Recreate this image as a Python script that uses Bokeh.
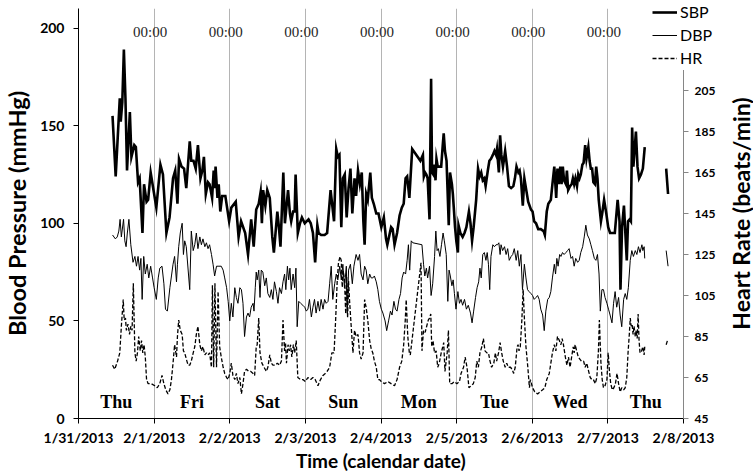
import math
from bokeh.plotting import figure
from bokeh.models import (Range1d, LinearAxis, FixedTicker, Legend, LegendItem,
                          ColumnDataSource)
from bokeh.core.properties import value
from bokeh.embed import file_html
from bokeh.resources import INLINE

GAP = float("nan")

# ---- data: hours since 1/31/2013 00:00 ----
sbp_hours = [
    10.8, 11.8, 13.1, 13.4, 13.9, 14.4, 14.9, 15.4, 16.3, 16.8,
    17.7, 18.2, 18.9, 19.4, 20.3, 20.8, 21.6, 22.1, 22.9, 23.9,
    24.7, 26.0, 26.8, 27.9, 28.9, 30.0, 30.7, 31.4, 31.9, 32.7,
    33.5, 34.2, 35.3, 35.8, 36.5, 37.2, 37.9, 38.7, 39.3, 39.8,
    40.4, 41.1, 41.6, 42.4, 42.9, 43.3, 43.5, 44.1, 44.5, 45.0,
    45.6, 46.6, 47.8, 48.5, 49.9, 50.8, 51.6, 52.9, 53.8, 54.8,
    55.6, 56.4, 57.2, 57.8, 58.2, 58.6, 59.3, 59.9, 60.7, 61.5,
    62.0, 63.1, 63.6, 64.1, 65.0, 65.5, 66.5, 67.1, 67.5, 68.1,
    68.6, 68.9, 69.6, 70.3, 70.9, 71.8, 73.0, 73.7, 74.4, 75.1,
    75.8, 76.2, 77.0, 78.1, 78.9, 80.0, 81.1, 81.8, 82.3, 82.8,
    83.4, 83.9, 84.5, 85.1, 85.7, 86.3, 86.9, 87.6, 88.1, 88.7,
    89.3, 89.9, 90.4, 90.8, 91.3, 91.8, 92.6, 93.1, 93.7, 94.5,
    95.2, 96.1, 96.9, 97.6, 98.0, 99.2, 99.7, 100.3, 101.1, 101.9,
    102.6, 103.2, 103.8, 104.3, 105.0, 105.9, 108.5, 109.3, 109.6, 110.0,
    110.4, 110.8, 111.4, 111.9, 112.2, 112.6, 113.0, 113.3, 113.6, 114.0,
    114.5, 115.1, 115.6, 115.9, 116.3, 116.8, 117.1, 117.5, 117.9, 118.5,
    118.8, 119.1, 119.5, 119.9, 120.4, 120.6, 121.2, 121.9, 122.5, 123.1,
    123.9, 124.4, 124.9, 125.4, 126.2, 126.8, 127.3, 127.8, 128.3, 128.8,
    129.2, 129.9, 130.4, 130.9, 131.5, 132.0, 132.5, 132.8, 133.4, 133.8,
    134.2, 134.7, 135.4, 136.0, 136.6, 137.3, 138.0, 138.5, 139.0, 139.6,
    140.0, 140.4, 141.0, 141.5, 142.0, 142.7, 143.6, 144.1, 144.6, 145.2,
    145.9, 146.7, 147.6, 148.0, 148.6, 149.1, 149.9, 150.4, 151.0, 151.6,
    152.0, 152.4, 152.9, 153.3, 153.7, 154.1, 154.7, 155.0, 155.4, 156.0,
    156.5, 156.9, 157.3, 157.7, 158.2, 158.6, 159.0, 159.4, 159.9, 160.3,
    160.8, 161.2, 161.8, 162.2, 162.6, 163.0, 163.4, 163.9, 164.3, 164.7,
    165.1, 165.8, 166.2, 166.8, 167.5, 168.1, 168.7, 169.5, 170.2, 171.1,
    171.7, 172.0, 172.5, 173.1, 174.0, 174.4, 174.9, 175.3, 175.7, 176.1,
    176.9, 177.4, 177.9, 178.5, 179.1, 179.7, GAP, 186.5, 187.1,
]
sbp_values = [
    155, 124, 164, 152, 162, 189, 164, 127, 157, 134,
    140, 139, 121, 123, 95, 120, 111, 112, 126, 116,
    108, 130, 125, 95, 103, 123, 127, 110, 133, 129,
    128, 118, 142, 132, 132, 128, 140, 123, 127, 134,
    115, 121, 120, 113, 127, 118, 129, 113, 120, 106,
    114, 114, 101, 108, 111, 93, 101, 95, 84, 102,
    88, 107, 110, 116, 100, 117, 109, 117, 113, 93,
    85, 106, 98, 88, 126, 100, 117, 105, 101, 106,
    106, 125, 95, 100, 103, 100, 102, 100, 95, 80,
    99, 95, 94, 94, 95, 117, 101, 138, 134, 135,
    98, 123, 125, 103, 118, 128, 105, 123, 114, 127,
    120, 126, 101, 89, 115, 112, 126, 113, 110, 105,
    105, 98, 103, 92, 89, 98, 97, 89, 95, 104,
    108, 110, 123, 124, 113, 138, 132, 135, 124, 126,
    125, 123, 102, 174, 126, 125, 130, 122, 133, 129,
    129, 129, 140, 146, 137, 132, 118, 99, 126, 120,
    115, 108, 98, 91, 85, 99, 95, 93, 95, 98,
    106, 100, 91, 98, 112, 128, 124, 126, 122, 123,
    119, 127, 132, 133, 135, 137, 135, 138, 126, 145,
    135, 129, 137, 129, 119, 118, 119, 123, 129, 126,
    127, 123, 109, 123, 118, 111, 107, 106, 101, 100,
    97, 97, 96, 94, 106, 110, 112, 120, 129, 113,
    128, 120, 129, 120, 129, 122, 120, 127, 117, 119,
    120, 123, 120, 123, 119, 125, 123, 125, 130, 131,
    140, 133, 139, 132, 128, 128, 121, 120, 129, 123,
    112, 101, 105, 112, 105, 98, 95, 95, 95, 112,
    101, 66, 98, 109, 81, 101, 102, 101, 149, 129,
    147, 129, 123, 125, 128, 139, GAP, 128, 115,
]

dbp_hours = [
    10.8, 11.7, 12.3, 12.8, 13.2, 13.6, 14.3, 14.7, 15.1, 15.5,
    16.0, 16.6, 17.3, 17.9, 18.4, 18.9, 19.4, 19.8, 20.2, 20.7,
    21.2, 21.8, 22.3, 22.9, 23.5, 24.0, 24.7, 25.3, 25.8, 26.5,
    27.1, 27.6, 28.2, 29.0, 29.5, 30.0, 30.5, 31.1, 31.4, 31.8,
    32.3, 32.9, 33.3, 33.7, 34.2, 35.3, 35.8, 36.4, 36.9, 37.4,
    37.9, 38.5, 39.0, 39.5, 40.1, 40.6, 41.1, 41.6, 42.2, 42.7,
    43.2, 43.8, 44.3, 45.3, 45.9, 46.4, 47.0, 47.5, 48.0, 48.5,
    49.0, 49.6, 50.1, 50.6, 51.2, 51.7, 52.2, 52.7, 53.3, 53.8,
    54.3, 54.8, 55.4, 55.7, 56.1, 56.4, 56.7, 57.2, 57.6, 58.0,
    58.5, 59.1, 59.6, 60.1, 60.7, 61.2, 61.7, 62.2, 62.8, 63.3,
    63.8, 64.4, 64.9, 65.4, 65.8, 66.3, 66.7, 67.1, 67.5, 68.1,
    68.6, 69.0, 69.4, 69.9, 70.5, 71.2, 71.8, 72.3, 72.8, 73.3,
    73.9, 74.4, 74.9, 75.4, 76.0, 76.5, 77.0, 77.6, 78.1, 78.6,
    79.2, 79.7, 80.2, 80.7, 81.3, 81.8, 82.3, 82.9, 83.4, 83.9,
    84.4, 85.0, 85.3, 85.7, 86.3, 86.9, 87.4, 88.1, 88.7, 89.2,
    89.7, 90.3, 90.8, 91.3, 91.8, 92.4, 92.9, 93.4, 93.9, 94.5,
    95.0, 95.5, 96.1, 96.6, 97.3, 97.8, 98.4, 99.0, 99.5, 100.1,
    100.6, 101.1, 101.7, 102.2, 102.7, 103.2, 103.8, 104.3, 104.7, 105.1,
    105.6, 106.1, 109.0, 109.5, 109.9, 110.4, 110.8, 111.4, 111.9, 112.4,
    113.0, 113.4, 113.8, 114.2, 114.7, 115.2, 115.7, 116.1, 116.7, 117.2,
    117.6, 118.0, 118.5, 118.9, 119.3, 119.8, 120.4, 120.9, 121.4, 121.9,
    122.5, 123.1, 123.7, 124.4, 124.9, 125.4, 126.0, 126.5, 127.0, 127.4,
    127.8, 128.3, 128.8, 129.3, 129.7, 130.1, 130.5, 130.9, 131.5, 132.0,
    132.5, 133.0, 133.4, 133.8, 134.1, 134.6, 135.2, 135.7, 136.2, 136.7,
    137.3, 137.8, 138.3, 138.9, 139.4, 139.9, 140.4, 140.9, 141.5, 142.0,
    142.5, 143.0, 143.6, 144.1, 144.6, 145.2, 145.7, 146.2, 146.7, 147.3,
    147.8, 148.3, 148.9, 149.4, 149.9, 150.4, 151.0, 151.4, 151.8, 152.2,
    152.7, 153.1, 153.6, 154.1, 154.7, 155.2, 155.7, 156.3, 156.8, 157.3,
    157.8, 158.4, 158.9, 159.4, 160.0, 160.5, 161.0, 161.5, 162.1, 162.6,
    163.1, 163.7, 164.2, 164.7, 165.2, 165.6, 166.1, 166.6, 167.1, 167.7,
    168.2, 168.7, 169.3, 169.8, 170.3, 170.8, 171.4, 171.9, 172.4, 173.0,
    173.5, 174.0, 174.5, 175.1, 175.6, 176.1, 176.7, 177.2, 177.7, 178.2,
    178.8, 179.1, 179.5, 179.7, GAP, 186.5, 187.1,
]
dbp_values = [
    94, 92, 93, 96, 102, 93, 102, 91, 88, 95,
    102, 89, 80, 83, 78, 83, 76, 82, 61, 83,
    74, 79, 72, 78, 72, 67, 61, 72, 77, 78,
    69, 56, 55, 67, 73, 79, 83, 70, 79, 88,
    95, 100, 84, 91, 88, 66, 96, 86, 89, 95,
    87, 93, 89, 92, 88, 90, 87, 89, 84, 79,
    73, 78, 78, 78, 76, 72, 67, 60, 50, 59,
    52, 67, 62, 59, 67, 66, 59, 42, 52, 54,
    52, 57, 59, 55, 67, 75, 71, 76, 62, 76,
    75, 68, 72, 64, 62, 66, 61, 70, 65, 59,
    67, 64, 70, 74, 66, 78, 71, 77, 66, 74,
    67, 77, 47, 60, 59, 58, 57, 55, 56, 61,
    52, 57, 61, 54, 60, 55, 61, 56, 61, 59,
    60, 69, 78, 61, 69, 74, 71, 78, 71, 79,
    67, 78, 54, 76, 79, 69, 78, 84, 81, 84,
    74, 71, 78, 76, 69, 74, 72, 72, 73, 70,
    66, 60, 56, 54, 50, 45, 50, 55, 53, 60,
    56, 55, 61, 64, 72, 75, 74, 81, 89, 76,
    91, 90, 89, 79, 73, 77, 72, 78, 63, 69,
    83, 96, 86, 87, 83, 89, 95, 91, 84, 60,
    76, 73, 68, 71, 64, 56, 65, 59, 61, 58,
    61, 56, 58, 54, 49, 55, 62, 67, 70, 77,
    72, 84, 85, 81, 85, 79, 66, 83, 89, 88,
    89, 89, 90, 84, 89, 86, 88, 84, 87, 81,
    83, 84, 87, 81, 86, 78, 84, 66, 79, 72,
    66, 65, 64, 63, 61, 62, 63, 61, 56, 53,
    45, 55, 61, 62, 65, 72, 79, 74, 82, 78,
    84, 83, 85, 84, 85, 86, 87, 82, 83, 78,
    82, 80, 81, 85, 88, 93, 99, 94, 92, 89,
    86, 82, 81, 84, 74, 55, 66, 66, 62, 59,
    56, 53, 49, 59, 65, 57, 62, 53, 47, 61,
    64, 61, 67, 81, 86, 83, 86, 84, 88, 85,
    89, 86, 88, 82, GAP, 86, 78,
]

hr_hours = [
    10.8, 11.5, 12.4, 13.1, 13.6, 14.2, 14.5, 14.9, 15.2, 15.7,
    16.2, 16.6, 17.0, 17.4, 17.9, 18.3, 18.7, 19.1, 19.6, 20.0,
    20.4, 20.8, 21.2, 21.6, 22.1, 23.1, 24.2, 25.0, 25.8, 26.5,
    27.1, 27.7, 28.4, 29.0, 29.5, 30.0, 30.5, 31.1, 31.4, 31.8,
    32.3, 32.9, 33.3, 33.7, 34.4, 34.8, 35.3, 35.8, 36.4, 36.9,
    37.4, 37.9, 38.5, 39.0, 39.5, 40.1, 40.6, 41.1, 41.6, 42.2,
    42.5, 42.9, 43.3, 43.8, 44.3, 44.8, 45.3, 45.9, 46.4, 47.0,
    47.5, 48.0, 48.5, 49.0, 49.6, 50.1, 50.6, 51.2, 51.7, 52.2,
    52.7, 53.3, 54.0, 54.6, 55.4, 55.9, 56.4, 56.7, 57.2, 57.6,
    58.2, 58.9, 59.6, 60.1, 60.7, 61.2, 61.7, 62.5, 63.1, 63.8,
    64.4, 64.9, 65.4, 65.7, 66.0, 66.5, 66.9, 67.3, 67.7, 68.2,
    68.6, 69.1, 69.6, 70.5, 71.2, 72.0, 72.8, 73.7, 74.4, 75.1,
    76.0, 76.8, 77.6, 78.3, 78.9, 79.7, 80.4, 81.1, 81.6, 82.1,
    82.5, 83.0, 83.4, 83.7, 84.0, 84.4, 84.8, 85.1, 85.4, 85.7,
    86.0, 86.5, 87.1, 87.6, 88.1, 88.7, 89.2, 89.7, 90.3, 90.8,
    91.3, 91.8, 92.4, 92.9, 93.4, 93.9, 94.5, 95.0, 95.5, 96.1,
    97.1, 98.2, 99.2, 100.3, 101.1, 101.9, 102.6, 103.2, 103.7, 104.0,
    104.5, 105.0, 105.3, 108.7, 109.0, 109.5, 110.0, 110.5, 111.0, 111.4,
    111.8, 112.1, 112.5, 113.0, 113.5, 114.0, 114.5, 115.1, 115.6, 115.9,
    116.3, 117.0, 117.4, 117.8, 118.5, 119.3, 120.1, 120.9, 121.4, 122.2,
    122.7, 123.3, 123.9, 124.6, 125.3, 125.9, 126.4, 126.9, 127.4, 128.0,
    128.5, 129.0, 129.6, 130.1, 130.6, 131.1, 131.8, 132.3, 132.7, 133.3,
    133.8, 134.3, 134.8, 135.4, 135.9, 136.4, 137.1, 137.6, 138.1, 138.6,
    139.2, 139.5, 139.8, 140.2, 140.7, 141.1, 141.5, 142.0, 142.6, 143.1,
    143.4, 144.1, 144.8, 145.7, 146.5, 147.3, 148.0, 148.6, 149.4, 149.9,
    150.4, 151.0, 151.5, 152.0, 152.6, 153.1, 153.5, 153.9, 154.5, 155.0,
    155.5, 156.0, 156.5, 157.0, 157.3, 157.6, 158.1, 158.6, 159.1, 159.6,
    160.3, 160.8, 161.3, 161.9, 162.4, 162.9, 163.4, 164.0, 164.5, 165.0,
    165.3, 165.8, 166.2, 166.6, 167.1, 167.7, 168.1, 168.5, 168.9, 169.4,
    169.9, 170.4, 170.9, 171.4, 171.9, 172.4, 173.0, 173.5, 174.0, 174.4,
    174.8, 175.1, 175.4, 175.7, 176.0, 176.3, 176.7, 177.0, 177.3, 177.6,
    177.9, 178.2, 178.7, 179.1, 179.5, 179.7, GAP, 186.5, 186.9,
]
hr_values = [
    71, 69, 73, 77, 90, 103, 93, 94, 88, 91,
    86, 90, 88, 111, 77, 73, 77, 85, 78, 83,
    77, 81, 75, 64, 62, 62, 61, 60, 62, 66,
    62, 59, 57, 59, 64, 72, 81, 75, 85, 93,
    88, 86, 78, 77, 73, 71, 71, 73, 77, 80,
    86, 90, 81, 78, 80, 76, 77, 76, 77, 70,
    110, 70, 111, 70, 107, 80, 75, 70, 67, 65,
    64, 67, 72, 66, 64, 67, 62, 65, 57, 62,
    68, 69, 68, 68, 67, 66, 80, 81, 94, 77,
    72, 70, 68, 70, 76, 72, 71, 71, 72, 71,
    73, 93, 78, 82, 72, 81, 78, 81, 75, 81,
    77, 83, 65, 64, 64, 63, 65, 64, 65, 64,
    61, 64, 66, 67, 68, 70, 77, 77, 93, 112,
    121, 124, 122, 109, 117, 113, 96, 114, 94, 112,
    103, 91, 77, 88, 85, 86, 77, 74, 77, 103,
    99, 93, 83, 79, 77, 73, 70, 64, 64, 63,
    62, 63, 62, 61, 64, 70, 73, 81, 93, 103,
    85, 77, 76, 121, 78, 88, 87, 90, 93, 94,
    96, 80, 83, 77, 78, 70, 72, 77, 80, 82,
    68, 77, 88, 62, 62, 63, 62, 63, 67, 70,
    75, 70, 60, 61, 62, 65, 73, 70, 77, 80,
    84, 78, 77, 77, 73, 70, 72, 77, 73, 77,
    82, 77, 73, 70, 72, 70, 70, 69, 67, 70,
    80, 81, 78, 80, 93, 108, 94, 80, 70, 60,
    64, 60, 58, 57, 58, 59, 60, 64, 67, 72,
    77, 81, 78, 85, 83, 81, 84, 81, 75, 71,
    75, 70, 75, 80, 77, 81, 78, 75, 74, 73,
    73, 70, 72, 68, 65, 64, 64, 62, 65, 78,
    93, 72, 64, 60, 61, 64, 77, 68, 62, 59,
    60, 62, 67, 62, 58, 60, 59, 60, 65, 77,
    86, 94, 90, 91, 86, 90, 85, 88, 84, 96,
    83, 77, 78, 80, 76, 80, GAP, 81, 83,
]

date_ticks = [0, 1, 2, 3, 4, 5, 6, 7, 8]
date_labels = ["1/31/2013", "2/1/2013", "2/2/2013", "2/3/2013", "2/4/2013",
               "2/5/2013", "2/6/2013", "2/7/2013", "2/8/2013"]
midnights = [1, 2, 3, 4, 5, 6, 7]
midnight_labels = ["00:00"] * 7
day_centers = [0.5, 1.5, 2.5, 3.5, 4.5, 5.5, 6.5, 7.5]
day_names = ["Thu", "Fri", "Sat", "Sun", "Mon", "Tue", "Wed", "Thu"]
bp_ticks = [0, 50, 100, 150, 200]
hr_ticks = [45, 65, 85, 105, 125, 145, 165, 185, 205]
series_names = ["SBP", "DBP", "HR"]
hr_title = "Heart Rate (beats/min)"

FONT = "Lato"
SERIF = "Liberation Serif"

# ---- main figure (placed at the page's top-left corner) ----
p = figure(width=753, height=475, x_range=Range1d(0, 8), y_range=Range1d(0, 210),
           output_backend="svg", toolbar_location=None,
           min_border_left=77, min_border_right=70, min_border_top=8, min_border_bottom=57,
           styles={"position": "absolute", "left": "0px", "top": "0px"})
p.outline_line_color = None
p.background_fill_color = "white"
p.border_fill_color = "white"
p.extra_y_ranges = {"hr": Range1d(45, 245)}

xa = p.xaxis[0]
xa.ticker = FixedTicker(ticks=date_ticks)
xa.major_label_overrides = {t: lab for t, lab in zip(date_ticks, date_labels)}
xa.axis_label = "Time (calendar date)"
xa.axis_label_text_font = FONT
xa.axis_label_text_font_style = "bold"
xa.axis_label_text_font_size = "19px"
xa.axis_label_text_color = "black"
xa.axis_label_standoff = 0
xa.major_label_text_font = FONT
xa.major_label_text_font_style = "bold"
xa.major_label_text_font_size = "14px"
xa.major_label_text_color = "black"
xa.major_label_standoff = 5
xa.major_tick_out = 5
xa.major_tick_in = 0
xa.minor_tick_line_color = None
xa.axis_line_color = "black"
xa.major_tick_line_color = "black"

ya = p.yaxis[0]
ya.ticker = FixedTicker(ticks=bp_ticks)
ya.axis_label = "Blood Pressure (mmHg)"
ya.axis_label_text_font = FONT
ya.axis_label_text_font_style = "bold"
ya.axis_label_text_font_size = "23.5px"
ya.axis_label_text_color = "black"
ya.axis_label_standoff = 6
ya.major_label_text_font = FONT
ya.major_label_text_font_style = "bold"
ya.major_label_text_font_size = "14px"
ya.major_label_text_color = "black"
ya.major_label_standoff = 9
ya.major_tick_out = 5
ya.major_tick_in = 0
ya.minor_tick_line_color = None
ya.axis_line_color = "black"
ya.major_tick_line_color = "black"

ra = LinearAxis(y_range_name="hr", ticker=FixedTicker(ticks=hr_ticks))
ra.major_label_text_font = FONT
ra.major_label_text_font_style = "bold"
ra.major_label_text_font_size = "12px"
ra.major_label_text_color = "black"
ra.major_label_standoff = 6
ra.major_tick_out = 5
ra.major_tick_in = 0
ra.minor_tick_line_color = None
ra.axis_line_color = "#868686"
ra.major_tick_line_color = "#868686"
p.add_layout(ra, "right")

p.ygrid.grid_line_color = None
p.xgrid.ticker = FixedTicker(ticks=midnights)
p.xgrid.grid_line_color = "#b4b4b4"
p.xgrid.grid_line_width = 1

STYLES = {
    "SBP": dict(line_color="black", line_width=2.6, line_join="miter"),
    "DBP": dict(line_color="black", line_width=1),
    "HR": dict(line_color="black", line_width=1.3, line_dash="4 2"),
}

sources = {
    "SBP": ColumnDataSource(dict(x=[h / 24 for h in sbp_hours], y=sbp_values)),
    "DBP": ColumnDataSource(dict(x=[h / 24 for h in dbp_hours], y=dbp_values)),
    "HR": ColumnDataSource(dict(x=[h / 24 for h in hr_hours], y=hr_values)),
}

p.line("x", "y", source=sources["HR"], y_range_name="hr", **STYLES["HR"])
p.line("x", "y", source=sources["DBP"], **STYLES["DBP"])
p.line("x", "y", source=sources["SBP"], **STYLES["SBP"])

mid_src = ColumnDataSource(dict(x=midnights, y=[198] * len(midnights), t=midnight_labels))
p.text("x", "y", text="t", source=mid_src, text_font=value(SERIF),
       text_font_size="15px", text_color="#262626", text_align="center",
       text_baseline="middle", x_offset=-4)

day_src = ColumnDataSource(dict(x=day_centers, y=[8.3] * len(day_centers), t=day_names))
p.text("x", "y", text="t", source=day_src, text_font=value(SERIF),
       text_font_size="18px", text_font_style="bold", text_color="black",
       text_align="center", text_baseline="middle")

# ---- legend: small overlay figure over the top-right corner ----
lfig = figure(width=76, height=68, output_backend="svg", toolbar_location=None,
              x_axis_location=None, y_axis_location=None, min_border=0,
              x_range=Range1d(-20, -19), y_range=Range1d(-20, -19),
              styles={"position": "absolute", "left": "652px", "top": "2px"})
lfig.outline_line_color = None
lfig.background_fill_color = "white"
lfig.border_fill_color = "white"
lfig.grid.visible = False
items = []
for name in series_names:
    r = lfig.line("x", "y", source=sources[name], **STYLES[name])
    items.append(LegendItem(label=name, renderers=[r]))
legend = Legend(items=items, location="top_left", orientation="vertical")
legend.label_text_font = FONT
legend.label_text_font_size = "16px"
legend.label_text_color = "black"
legend.glyph_width = 25
legend.glyph_height = 18
legend.label_height = 18
legend.spacing = 4
legend.padding = 0
legend.margin = 0
legend.label_standoff = 3
legend.border_line_color = None
legend.background_fill_alpha = 0
lfig.add_layout(legend)

# ---- right axis title (reads bottom-to-top), overlay strip ----
rfig = figure(width=28, height=300, output_backend="svg", toolbar_location=None,
              x_axis_location=None, y_axis_location=None, min_border=0,
              x_range=Range1d(-1, 1), y_range=Range1d(-1, 1),
              styles={"position": "absolute", "left": "726px", "top": "63px"})
rfig.outline_line_color = None
rfig.background_fill_alpha = 0
rfig.border_fill_alpha = 0
rfig.grid.visible = False
rfig.text(x=[0], y=[0], text=[hr_title], angle=math.pi / 2,
          text_font=value(FONT), text_font_style="bold", text_font_size="23px",
          text_color="black", text_align="center", text_baseline="middle")

open("out.html", "w").write(file_html([p, lfig, rfig], INLINE))
